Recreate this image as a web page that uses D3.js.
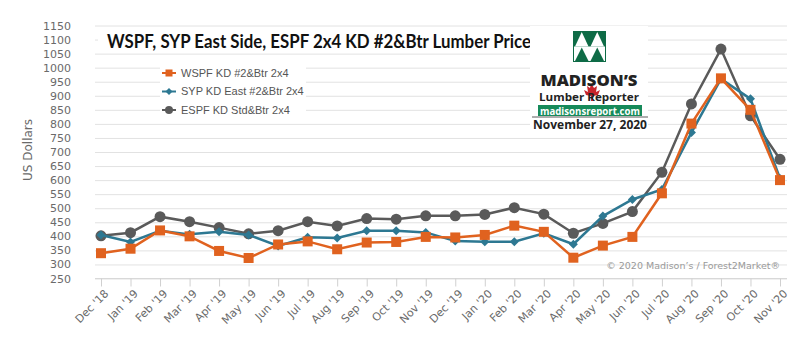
<!DOCTYPE html>
<html>
<head>
<meta charset="utf-8">
<script src="https://cdn.jsdelivr.net/npm/d3@7"></script>
<style>
  body { margin: 0; background: #fff; }
  svg { display: block; }
</style>
</head>
<body>
<script>
// months on the x axis
let months = ["Dec '18", "Jan '19", "Feb '19", "Mar '19", "Apr '19", "May '19", "Jun '19", "Jul '19",
  "Aug '19", "Sep '19", "Oct '19", "Nov '19", "Dec '19", "Jan '20", "Feb '20", "Mar '20",
  "Apr '20", "May '20", "Jun '20", "Jul '20", "Aug '20", "Sep '20", "Oct '20", "Nov '20"]

// prices, US$ per mbf
let wspf = [340, 356, 421, 400, 348, 323, 371, 382, 354, 378, 380, 398, 396, 405, 438, 416,
  324, 367, 398, 553, 801, 962, 850, 600]
let syp = [405, 380, 420, 407, 416, 405, 366, 397, 394, 420, 420, 414, 383, 381, 381, 411,
  372, 472, 531, 567, 769, 960, 889, 606]
let espf = [402, 413, 470, 452, 431, 409, 420, 452, 437, 463, 461, 473, 473, 478, 502, 479,
  411, 446, 488, 628, 871, 1066, 829, 674]

let yTicks = d3.range(250, 1151, 50)

let seriesNames = ['WSPF KD #2&Btr 2x4', 'SYP KD East #2&Btr 2x4', 'ESPF KD Std&Btr 2x4']

let width = 800, height = 339

let svg = d3.select('body').append('svg')
  .attr('width', width)
  .attr('height', height)

let x = d3.scalePoint()
  .domain(months)
  .range([101, 780])

let y = d3.scaleLinear()
  .domain([250, 1150])
  .range([278.5, 25.5])

// gridlines
svg.append('g')
  .attr('transform', 'translate(95,0)')
  .call(d3.axisLeft(y).tickValues(yTicks).tickSize(-692).tickFormat(''))
  .call(g => g.select('.domain').remove())
  .call(g => g.selectAll('line').attr('stroke', '#e2e2e2'))

// y tick labels
svg.append('g')
  .attr('transform', 'translate(71,0)')
  .call(d3.axisLeft(y).tickValues(yTicks).tickSize(0).tickPadding(0).tickFormat(d3.format('d')))
  .call(g => g.select('.domain').remove())
  .call(g => g.selectAll('text')
    .attr('font-family', 'DejaVu Sans')
    .attr('font-size', 11)
    .attr('fill', '#6a6a6a'))

// x axis
svg.append('g')
  .attr('transform', `translate(0,${y(250)})`)
  .call(d3.axisBottom(x).tickSize(8).tickSizeOuter(0))
  .call(g => g.select('.domain').attr('d', 'M95,0H787').attr('stroke', '#d8d8d8'))
  .call(g => g.selectAll('line').attr('stroke', '#d0d0d0'))
  .call(g => g.selectAll('text')
    .attr('font-family', 'DejaVu Sans')
    .attr('font-size', 11)
    .attr('fill', '#6a6a6a')
    .attr('text-anchor', 'end')
    .attr('y', 0)
    .attr('dy', '0.35em')
    .attr('transform', 'translate(5,13) rotate(-45)'))

svg.append('text')
  .attr('transform', 'translate(32,150) rotate(-90)')
  .attr('text-anchor', 'middle')
  .attr('font-family', 'DejaVu Sans')
  .attr('font-size', 12)
  .attr('fill', '#6a6a6a')
  .text('US Dollars')

// title
svg.append('rect')
  .attr('x', 98).attr('y', 29).attr('width', 432).attr('height', 22)
  .attr('fill', '#fff')
svg.append('text')
  .attr('x', 107).attr('y', 48)
  .attr('font-family', 'Lato')
  .attr('font-weight', 'bold')
  .attr('font-size', 18)
  .attr('textLength', 424)
  .attr('lengthAdjust', 'spacingAndGlyphs')
  .attr('fill', '#111')
  .text('WSPF, SYP East Side, ESPF 2x4 KD #2&Btr Lumber Price')

// series lines
let series = [
  { name: seriesNames[2], values: espf, color: '#5a5a5a', shape: 'circle' },
  { name: seriesNames[1], values: syp, color: '#2d7892', shape: 'diamond' },
  { name: seriesNames[0], values: wspf, color: '#e0621f', shape: 'square' }
]

let line = d3.line()
  .x((d, i) => x(months[i]))
  .y(d => y(d))

function marker(sel, shape, color, big) {
  if (shape === 'circle') {
    sel.append('circle').attr('r', big ? 5.5 : 4).attr('fill', color)
  } else if (shape === 'diamond') {
    let s = big ? 4.5 : 3.5
    sel.append('path').attr('d', `M0,${-s}L${s},0L0,${s}L${-s},0Z`).attr('fill', color)
  } else {
    let s = big ? 5 : 3.5
    sel.append('rect').attr('x', -s).attr('y', -s).attr('width', 2 * s).attr('height', 2 * s).attr('fill', color)
  }
}

series.forEach(s => {
  svg.append('path')
    .datum(s.values)
    .attr('d', line)
    .attr('fill', 'none')
    .attr('stroke', s.color)
    .attr('stroke-width', 2.5)
  svg.append('g').selectAll('g')
    .data(s.values)
    .join('g')
    .attr('transform', (d, i) => `translate(${x(months[i])},${y(d)})`)
    .each(function () { marker(d3.select(this), s.shape, s.color, true) })
})

// legend
svg.append('rect')
  .attr('x', 160).attr('y', 64).attr('width', 146).attr('height', 54)
  .attr('fill', '#fff')
let legend = svg.append('g')
  .selectAll('g')
  .data([series[2], series[1], series[0]])
  .join('g')
  .attr('transform', (d, i) => `translate(169,${73 + i * 18.5})`)
legend.append('line')
  .attr('x1', -7).attr('x2', 7)
  .attr('stroke', d => d.color)
  .attr('stroke-width', 2)
legend.each(function (d) { marker(d3.select(this), d.shape, d.color, false) })
legend.append('text')
  .attr('x', 12).attr('dy', '0.35em')
  .attr('font-family', 'Liberation Sans')
  .attr('font-size', 11)
  .attr('fill', '#555')
  .text(d => d.name)

// logo
let logo = svg.append('g')
logo.append('rect')
  .attr('x', 530).attr('y', 26).attr('width', 118).attr('height', 108)
  .attr('fill', '#fff')
let lx = 573, ly = 31, lw = 33, lh = 31
let green = '#0e6b46'
logo.append('rect').attr('x', lx).attr('y', ly).attr('width', lw).attr('height', lh).attr('fill', green)
logo.append('rect').attr('x', lx + 1).attr('y', ly + lh / 2).attr('width', lw - 2).attr('height', lh / 2 - 1).attr('fill', '#fff')
;[0, 1].forEach(k => {
  let x0 = lx + 1 + k * (lw - 2) / 2, w = (lw - 2) / 2
  logo.append('path')
    .attr('d', `M${x0 + 1},${ly + lh / 2}L${x0 + w / 2},${ly + 1}L${x0 + w - 1},${ly + lh / 2}Z`)
    .attr('fill', '#fff')
  logo.append('path')
    .attr('d', `M${x0 + 1},${ly + lh - 1}L${x0 + w / 2},${ly + lh / 2 + 1}L${x0 + w - 1},${ly + lh - 1}Z`)
    .attr('fill', green)
})
// maple leaf
logo.append('path')
  .attr('d', 'M591,83 L594,88 L597,86 L596,92 L600,90 L598,95 L593,96 L593,101 L591,101 L591,96 L586,95 L584,90 L588,92 L587,86 L590,88 Z')
  .attr('fill', '#c8252c')
logo.append('text')
  .attr('x', 589).attr('y', 86)
  .attr('text-anchor', 'middle')
  .attr('font-family', 'Open Sans')
  .attr('font-weight', 800)
  .attr('font-size', 15)
  .attr('textLength', 97)
  .attr('lengthAdjust', 'spacingAndGlyphs')
  .attr('fill', '#222')
  .text('MADISON\u2019S')
logo.append('text')
  .attr('x', 589).attr('y', 100.5)
  .attr('text-anchor', 'middle')
  .attr('font-family', 'Open Sans')
  .attr('font-weight', 'bold')
  .attr('font-size', 10.5)
  .attr('textLength', 100)
  .attr('lengthAdjust', 'spacingAndGlyphs')
  .attr('fill', '#222')
  .text('Lumber      Reporter')
logo.append('rect')
  .attr('x', 538).attr('y', 105).attr('width', 104).attr('height', 11)
  .attr('fill', '#168a5a')
logo.append('text')
  .attr('x', 590).attr('y', 114.5)
  .attr('text-anchor', 'middle')
  .attr('font-family', 'Open Sans')
  .attr('font-weight', 'bold')
  .attr('font-size', 10)
  .attr('textLength', 100)
  .attr('lengthAdjust', 'spacingAndGlyphs')
  .attr('fill', '#fff')
  .text('madisonsreport.com')
logo.append('line')
  .attr('x1', 532).attr('x2', 648).attr('y1', 117).attr('y2', 117)
  .attr('stroke', '#333').attr('stroke-width', 0.8)
logo.append('text')
  .attr('x', 590).attr('y', 129)
  .attr('text-anchor', 'middle')
  .attr('font-family', 'Open Sans')
  .attr('font-weight', 'bold')
  .attr('font-size', 12.5)
  .attr('textLength', 114)
  .attr('lengthAdjust', 'spacingAndGlyphs')
  .attr('fill', '#222')
  .text('November 27, 2020')

// copyright
svg.append('text')
  .attr('x', 780).attr('y', 269)
  .attr('text-anchor', 'end')
  .attr('font-family', 'DejaVu Sans')
  .attr('font-size', 9.5)
  .attr('fill', '#9a9a9a')
  .text('\u00a9 2020 Madison\u2019s / Forest2Market\u00ae')
</script>
</body>
</html>
